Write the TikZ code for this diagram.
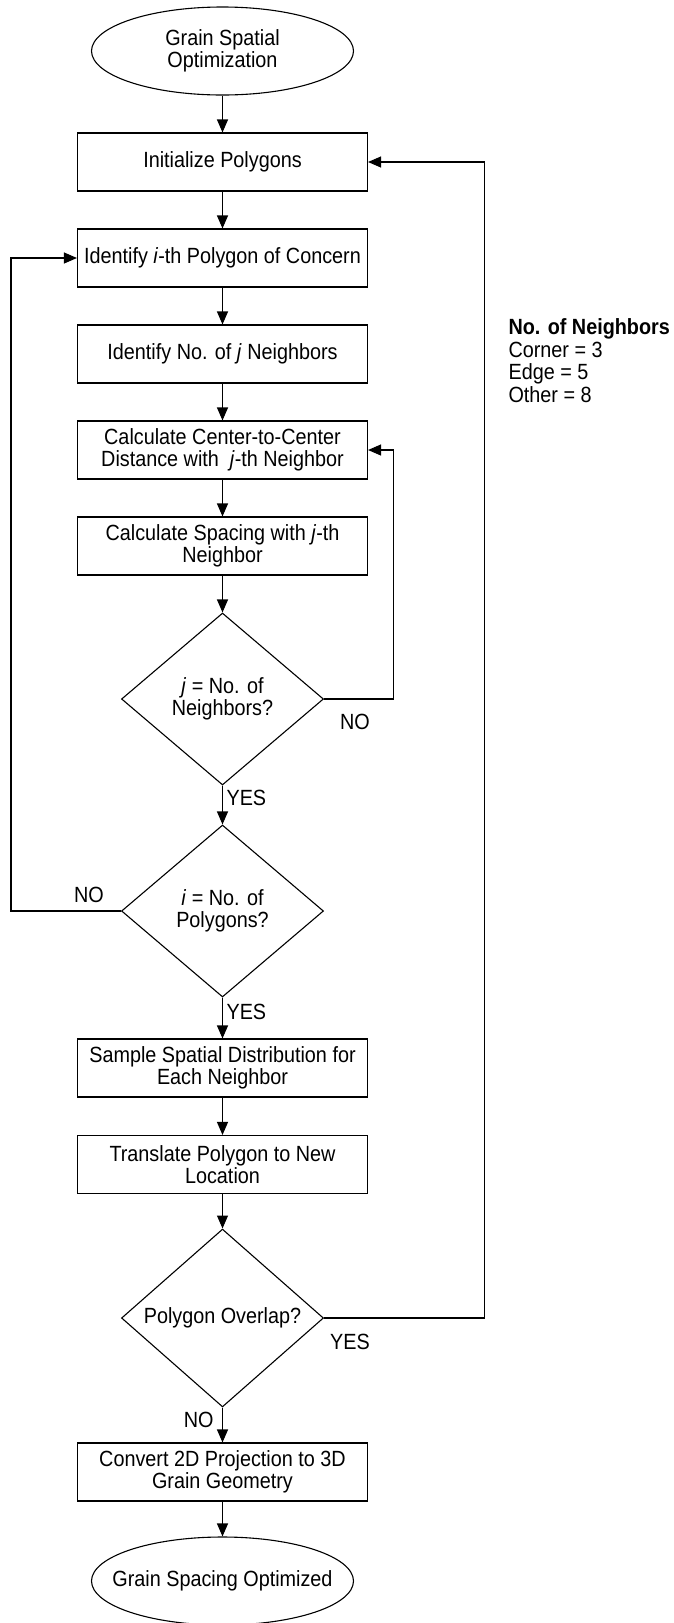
\documentclass[tikz,border=0pt]{standalone}
\usepackage{fontspec}
\setmainfont{Liberation Sans}[FakeStretch=0.9]
\usetikzlibrary{shapes.geometric,arrows.meta}
\begin{document}
\begin{tikzpicture}[x=1pt,y=-1pt,line width=1.1pt,
        font=\fontsize{22}{22}\selectfont,
        >={Triangle[length=13pt,width=11pt]},
        term/.style={draw,ellipse,minimum width=262pt,minimum height=88pt,inner sep=0pt,align=center},
        proc/.style={draw,minimum width=290pt,minimum height=58pt,inner sep=0pt,align=center},
        test/.style={draw,diamond,minimum width=202pt,minimum height=172pt,inner sep=0pt,align=center},
        lbl/.style={inner sep=0pt}]
    \useasboundingbox (0,0) rectangle (673,1623);
    % main column
    \node[term] (start) at (222.5,51) {Grain Spatial\\Optimization};
    \node[proc] (init) at (222.5,162) {Initialize Polygons};
    \node[proc] (idi) at (222.5,258) {Identify \textit{i}-th Polygon of Concern};
    \node[proc] (idj) at (222.5,354) {Identify No. of \textit{j} Neighbors};
    \node[proc] (dist) at (222.5,450) {Calculate Center-to-Center\\Distance with\ \ \textit{j}-th Neighbor};
    \node[proc] (spac) at (222.5,546) {Calculate Spacing with \textit{j}-th\\Neighbor};
    \node[test] (dj) at (222.5,699) {\textit{j} = No. of\\Neighbors?};
    \node[test] (di) at (222.5,911) {\textit{i} = No. of\\Polygons?};
    \node[proc] (samp) at (222.5,1068) {Sample Spatial Distribution for\\Each Neighbor};
    \node[proc] (move) at (222.5,1164.5) {Translate Polygon to New\\Location};
    \node[test] (over) at (222.5,1318) {Polygon Overlap?};
    \node[proc] (conv) at (222.5,1472) {Convert 2D Projection to 3D\\Grain Geometry};
    \node[term] (done) at (222.5,1581) {};
    \node at (done) {Grain Spacing Optimized};
    % legend
    \node[lbl,anchor=north west,align=left,font=\fontsize{22}{22.6}\selectfont] (legend) at (508,318)
        {\textbf{No. of Neighbors}\\Corner = 3\\Edge = 5\\Other = 8};
    % branch labels
    \node[lbl,anchor=west] (yesj) at (226,798) {YES};
    \node[lbl] (noj) at (355,722) {NO};
    \node[lbl,anchor=west] (yesi) at (226,1012) {YES};
    \node[lbl] (noi) at (89,895) {NO};
    \node[lbl] (yeso) at (350,1342) {YES};
    \node[lbl,anchor=east] (noo) at (214,1420) {NO};
    % arrows
    \draw[->] (start) -- (init);
    \draw[->] (init) -- (idi);
    \draw[->] (idi) -- (idj);
    \draw[->] (idj) -- (dist);
    \draw[->] (dist) -- (spac);
    \draw[->] (spac) -- (dj);
    \draw[->] (dj) -- (di);
    \draw[->] (di) -- (samp);
    \draw[->] (samp) -- (move);
    \draw[->] (move) -- (over);
    \draw[->] (over) -- (conv);
    \draw[->] (conv) -- (done);
    \draw[->] (dj.east) -- ++(69,0) |- (dist.east);
    \draw[->] (di.west) -- ++(-110,0) |- (idi.west);
    \draw[->] (over.east) -- ++(160,0) |- (init.east);
\end{tikzpicture}
\end{document}
